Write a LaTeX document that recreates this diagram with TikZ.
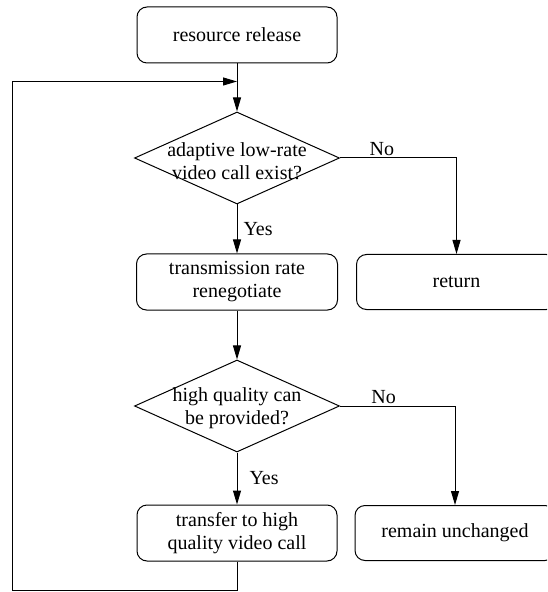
\documentclass[tikz,border=0pt]{standalone}
\usepackage{fontspec}
\setmainfont{Liberation Serif}
\newfontfamily\flowfont{Liberation Serif}
\usetikzlibrary{positioning,arrows.meta,shapes.geometric}

\begin{document}
\begin{tikzpicture}[x=0.5pt,y=-0.5pt,line width=0.5pt,
  font=\flowfont\fontsize{10}{11.5}\selectfont,>={Triangle[length=7pt,width=4pt]},
  proc/.style={draw,rounded corners=5pt,minimum width=100pt,minimum height=28pt,align=center,inner sep=1pt},
  dec/.style={draw,diamond,inner sep=0pt,minimum width=102.5pt,minimum height=46pt},
  lbl/.style={inner sep=1pt}]
  \clip (0,0) rectangle (547,592);
  % main column
  \node[proc] (rel) at (237,35) {resource release};
  \coordinate[below=9pt of rel.south] (m);
  \node[dec,below=24pt of rel,label={[align=center,yshift=-1.5pt]center:adaptive low-rate\\video call exist?}] (d1) {};
  \node[proc,below=24.5pt of d1,minimum width=100.5pt] (tr) {transmission rate\\renegotiate};
  \node[dec,below=24.5pt of tr,label={[align=center,yshift=-1pt]center:high quality can\\be provided?}] (d2) {};
  \node[proc,below=26pt of d2] (tf) {transfer to high\\quality video call};
  % right column
  \node[proc,right=9pt of tr,minimum height=27.5pt] (ret) {return};
  \node[proc,right=8.5pt of tf,minimum height=27.5pt] (rem) {remain unchanged};
  \coordinate (lft) at (12,590);
  % connectors
  \draw[->] (rel) -- (d1);
  \draw[->] (d1) -- node[lbl,right,xshift=2pt]{Yes} (tr);
  \draw[->] (d1.east) -| node[lbl,pos=0.18,above]{No} (ret.north);
  \draw[->] (tr) -- (d2);
  \draw[->] (d2) -- node[lbl,right,xshift=5pt]{Yes} (tf);
  \draw[->] (d2.east) -| node[lbl,pos=0.19,above]{No} (rem.north);
  \draw[->] (tf.south) |- (lft) |- (m);
\end{tikzpicture}
\end{document}
